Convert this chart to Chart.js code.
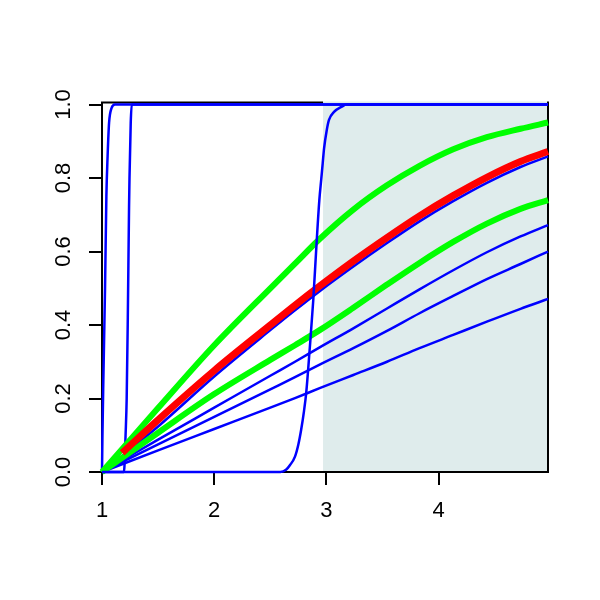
<!DOCTYPE html>
<html>
<head>
<meta charset="utf-8">
<script src="https://cdn.jsdelivr.net/npm/chart.js@4/dist/chart.umd.min.js"></script>
<style>
  html, body { margin: 0; padding: 0; background: #fff; }
</style>
</head>
<body>
<canvas id="myChart" width="600" height="600"></canvas>
<script>
// tick labels
var xTicks = [1, 2, 3, 4];
var yTicks = [0, 0.2, 0.4, 0.6, 0.8, 1.0];
var shadeFrom = 2.97;

// shared x grid for the smooth curves
var xs = [1, 1.5, 2, 2.5, 2.72, 2.94, 3.24, 3.54, 3.83, 4.13, 4.43, 4.73, 4.975];
var greenHigh = [0, 0.174, 0.345, 0.50, 0.567, 0.634, 0.714, 0.78, 0.833, 0.878, 0.911, 0.934, 0.951];
var greenLow = [0, 0.107, 0.212, 0.305, 0.345, 0.386, 0.447, 0.51, 0.569, 0.626, 0.676, 0.716, 0.74];
var blueMid = [0, 0.124, 0.26, 0.386, 0.44, 0.492, 0.559, 0.623, 0.682, 0.737, 0.787, 0.83, 0.859];
var blueA = [0, 0.088, 0.175, 0.262, 0.300, 0.339, 0.391, 0.445, 0.497, 0.549, 0.598, 0.641, 0.672];
var blueB = [0, 0.075, 0.150, 0.225, 0.258, 0.292, 0.337, 0.384, 0.432, 0.479, 0.525, 0.566, 0.60];
var blueC = [0, 0.059, 0.117, 0.175, 0.201, 0.228, 0.264, 0.30, 0.337, 0.373, 0.409, 0.444, 0.471];

// red curve starts a bit right of 1
var redX = [1.18, 1.5, 2, 2.5, 2.72, 2.94, 3.24, 3.54, 3.83, 4.13, 4.43, 4.73, 4.975];
var red = [0.052, 0.142, 0.276, 0.400, 0.454, 0.506, 0.574, 0.638, 0.697, 0.752, 0.802, 0.845, 0.872];

// the three steep curves
var steep1X = [1, 1.004, 1.012, 1.027, 1.039, 1.05, 1.063, 1.085, 1.115, 4.975];
var steep1 = [0, 0.1, 0.25, 0.5, 0.75, 0.86, 0.95, 0.99, 1, 1];
var steep2X = [1, 1.195, 1.2, 1.21, 1.22, 1.23, 1.241, 1.245, 1.256, 1.265, 4.975];
var steep2 = [0, 0, 0.015, 0.1, 0.2, 0.42, 0.72, 0.8, 0.95, 1, 1];
var steep3X = [1, 2.59, 2.64, 2.676, 2.72, 2.75, 2.775, 2.80, 2.82, 2.85, 2.883, 2.91, 2.937, 2.955, 2.967, 2.979, 3.003, 3.023, 3.068, 3.136, 3.18, 4.975];
var steep3 = [0, 0, 0.006, 0.019, 0.042, 0.075, 0.115, 0.165, 0.215, 0.33, 0.468, 0.61, 0.74, 0.80, 0.84, 0.88, 0.93, 0.958, 0.98, 0.994, 1, 1];

function pts(x, y) {
    return x.map(function (v, i) { return { x: v, y: y[i] }; });
}

function curve(x, y, color, width) {
    return {
        data: pts(x, y),
        borderColor: color,
        borderWidth: width,
        pointRadius: 0,
        fill: false,
        cubicInterpolationMode: 'monotone',
        clip: false
    };
}

// listed bottom first
var series = [
    curve(xs, blueC, '#0000ff', 2.5),
    curve(xs, blueB, '#0000ff', 2.5),
    curve(xs, blueA, '#0000ff', 2.5),
    curve(xs, blueMid, '#0000ff', 2.5),
    curve(steep1X, steep1, '#0000ff', 2.5),
    curve(steep2X, steep2, '#0000ff', 2.5),
    curve(xs, greenLow, '#00ff00', 6),
    curve(xs, greenHigh, '#00ff00', 6),
    curve(redX, red, '#ff0000', 7),
    curve(steep3X, steep3, '#0000ff', 2.5)
];
series.forEach(function (d, i) { d.order = series.length - i; });

var framePlugin = {
    id: 'frame',
    beforeDraw: function (chart) {
        var a = chart.chartArea, c = chart.ctx;
        var left = chart.scales.x.getPixelForValue(shadeFrom);
        c.save();
        c.fillStyle = '#dfecec';
        c.fillRect(left, a.top - 1, a.right - left, a.bottom - a.top + 1);
        c.restore();
    },
    beforeDatasetsDraw: function (chart) {
        var a = chart.chartArea, c = chart.ctx;
        var left = chart.scales.x.getPixelForValue(shadeFrom);
        c.save();
        c.strokeStyle = '#000';
        c.lineWidth = 2;
        c.beginPath();
        c.moveTo(a.left - 1, a.top);
        c.lineTo(left, a.top);
        c.moveTo(a.right, a.top - 1);
        c.lineTo(a.right, a.bottom + 1);
        c.stroke();
        c.restore();
    }
};

var font = { family: "'Liberation Sans', Arial, sans-serif", size: 22 };

var ctx = document.getElementById('myChart').getContext('2d');
var myChart = new Chart(ctx, {
    type: 'line',
    data: { datasets: series },
    plugins: [framePlugin],
    options: {
        responsive: false,
        animation: false,
        layout: { padding: { left: 42, right: 52, top: 102.5, bottom: 78 } },
        plugins: { legend: { display: false }, tooltip: { enabled: false } },
        scales: {
            x: {
                type: 'linear',
                min: 1,
                max: 4.975,
                afterBuildTicks: function (s) { s.ticks = xTicks.map(function (v) { return { value: v }; }); },
                afterFit: function (s) { s.height = 50; },
                grid: { drawOnChartArea: false, tickLength: 13, color: '#000', lineWidth: 2 },
                border: { color: '#000', width: 2 },
                ticks: { color: '#000', font: font, padding: 13, maxRotation: 0 }
            },
            y: {
                type: 'linear',
                min: 0,
                max: 1.0055,
                afterBuildTicks: function (s) { s.ticks = yTicks.map(function (v) { return { value: v }; }); },
                afterFit: function (s) { s.width = 60; },
                grid: { drawOnChartArea: false, tickLength: 13, color: '#000', lineWidth: 2 },
                border: { color: '#000', width: 2 },
                ticks: {
                    color: '#000', font: font, padding: 10,
                    minRotation: 90, maxRotation: 90, crossAlign: 'center',
                    callback: function (v) { return v.toFixed(1); }
                }
            }
        }
    }
});
</script>
</body>
</html>
